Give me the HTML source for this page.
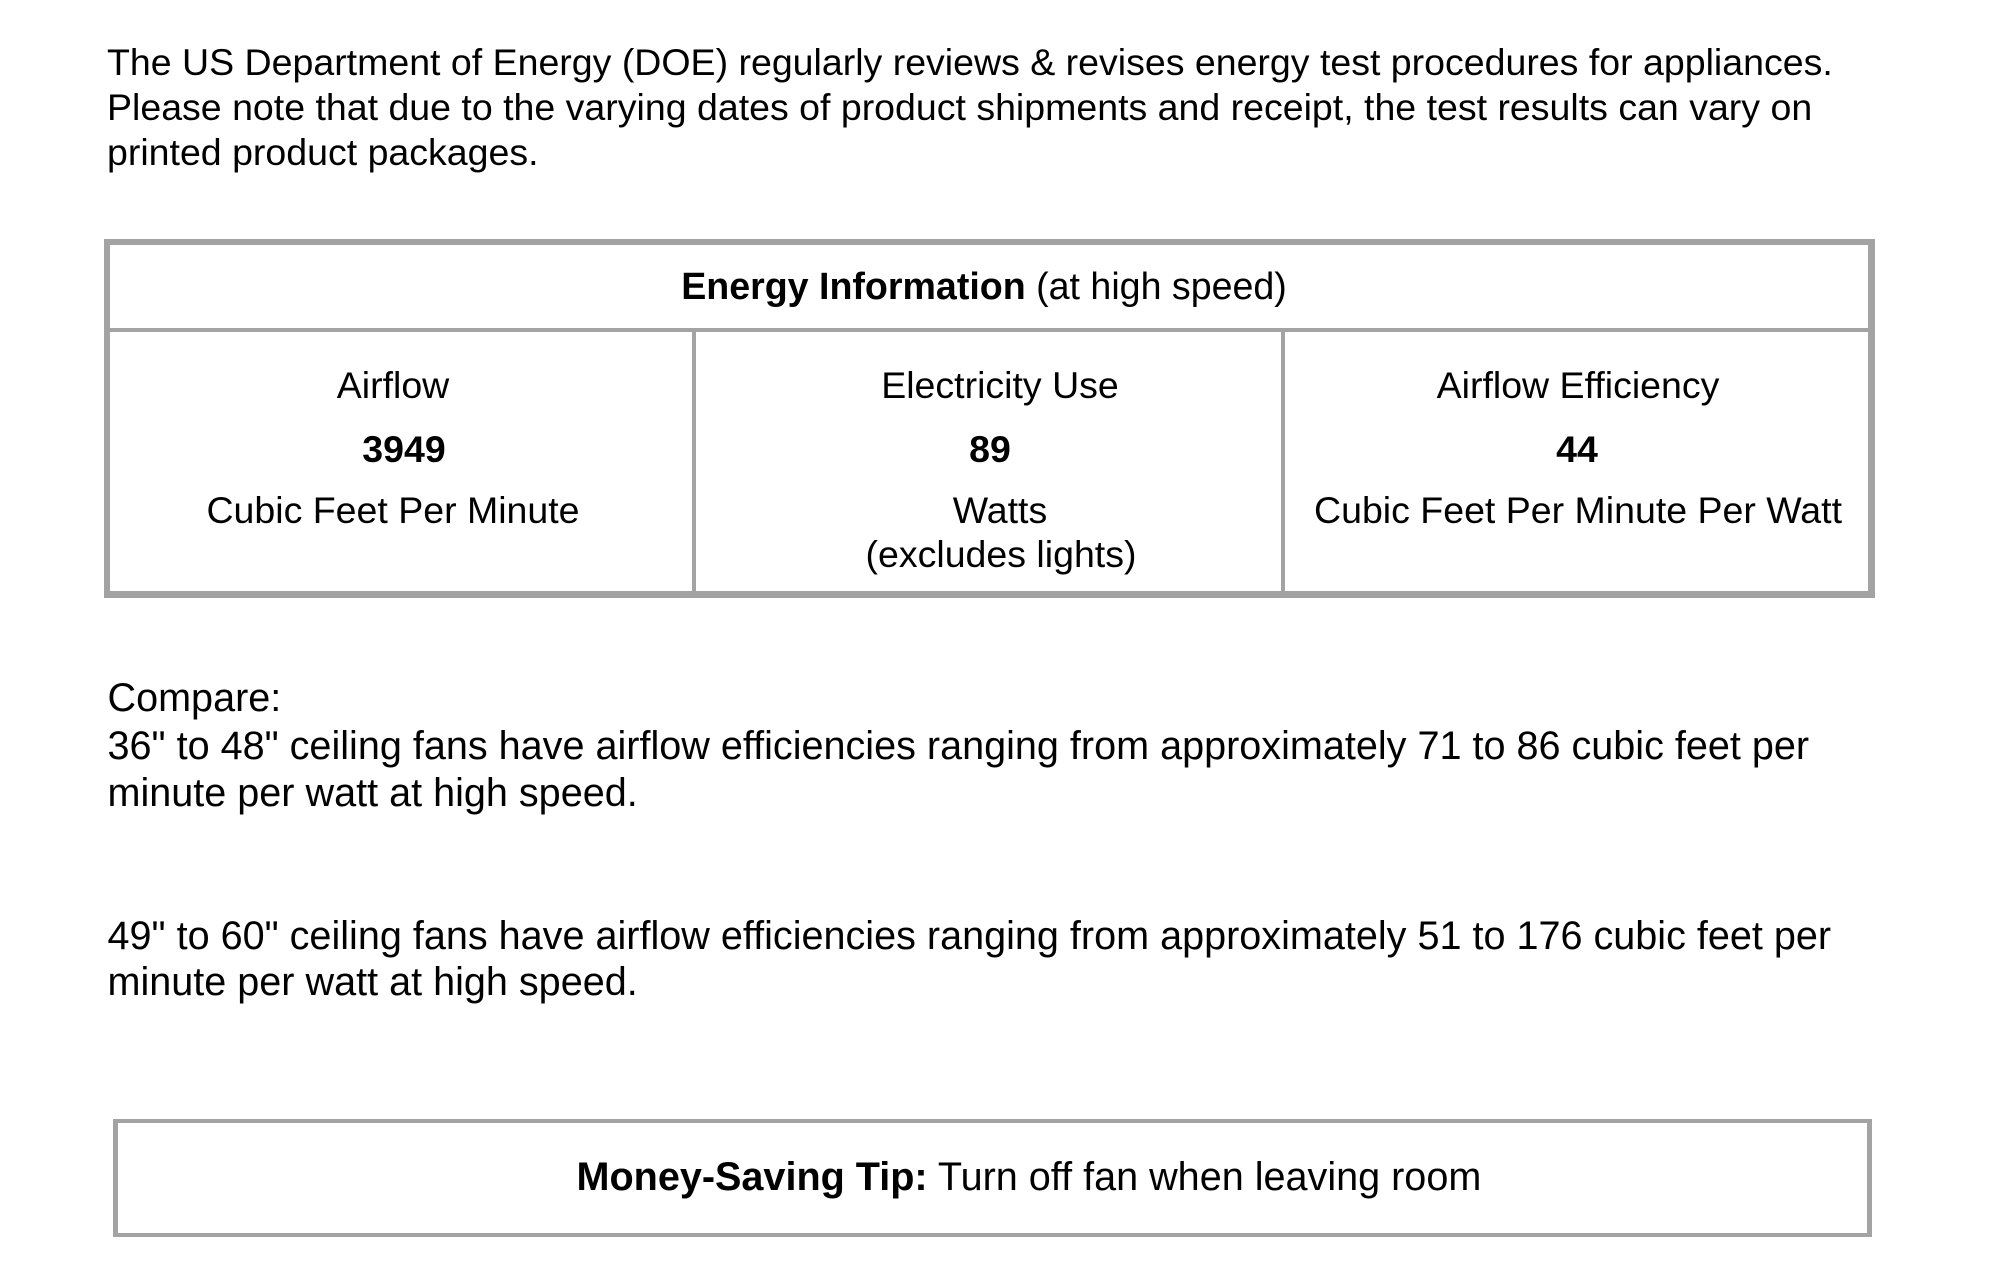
<!DOCTYPE html>
<html>
<head>
<meta charset="utf-8">
<style>
  html, body { margin:0; padding:0; background:#fff; }
  body { width:2000px; height:1278px; overflow:hidden; }
  svg { display:block; }
  text { font-family:"Liberation Sans", Arial, sans-serif; fill:#000; }
  .b { font-weight:bold; }
</style>
</head>
<body>
<svg width="2000" height="1278" viewBox="0 0 2000 1278" xmlns="http://www.w3.org/2000/svg">
  <rect x="0" y="0" width="2000" height="1278" fill="#fff"/>

  <!-- Top paragraph -->
  <g font-size="37.5">
    <text x="107" y="75">The US Department of Energy (DOE) regularly reviews &amp; revises energy test procedures for appliances.</text>
    <text x="107" y="120">Please note that due to the varying dates of product shipments and receipt, the test results can vary on</text>
    <text x="107" y="165">printed product packages.</text>
  </g>

  <!-- Energy table -->
  <rect x="104" y="239" width="1771" height="359" fill="#a3a3a3"/>
  <rect x="110" y="245" width="1758" height="346" fill="#fff"/>
  <rect x="110" y="328" width="1758" height="4" fill="#a3a3a3"/>
  <rect x="692" y="332" width="4" height="259" fill="#a3a3a3"/>
  <rect x="1281" y="332" width="4" height="259" fill="#a3a3a3"/>

  <text x="984" y="299" font-size="37.6" text-anchor="middle"><tspan class="b">Energy Information</tspan> (at high speed)</text>

  <g font-size="37.5" text-anchor="middle">
    <text x="393" y="398">Airflow</text>
    <text x="404" y="462" class="b">3949</text>
    <text x="393" y="523">Cubic Feet Per Minute</text>

    <text x="1000" y="398">Electricity Use</text>
    <text x="990" y="462" class="b">89</text>
    <text x="1000" y="523">Watts</text>
    <text x="1001" y="567">(excludes lights)</text>

    <text x="1578" y="398">Airflow Efficiency</text>
    <text x="1577" y="462" class="b">44</text>
    <text x="1578" y="523">Cubic Feet Per Minute Per Watt</text>
  </g>

  <!-- Compare section -->
  <g font-size="39.58">
    <text x="107.5" y="711">Compare:</text>
    <text x="107.5" y="759">36" to 48" ceiling fans have airflow efficiencies ranging from approximately 71 to 86 cubic feet per</text>
    <text x="107.5" y="806">minute per watt at high speed.</text>
    <text x="107.5" y="949">49" to 60" ceiling fans have airflow efficiencies ranging from approximately 51 to 176 cubic feet per</text>
    <text x="107.5" y="995">minute per watt at high speed.</text>
  </g>

  <!-- Tip box -->
  <rect x="113" y="1119" width="1759" height="118" fill="#a3a3a3"/>
  <rect x="118" y="1123" width="1749" height="110" fill="#fff"/>
  <text x="576.5" y="1190" font-size="39.6"><tspan class="b">Money-Saving Tip:</tspan> Turn off fan when leaving room</text>
</svg>
</body>
</html>
